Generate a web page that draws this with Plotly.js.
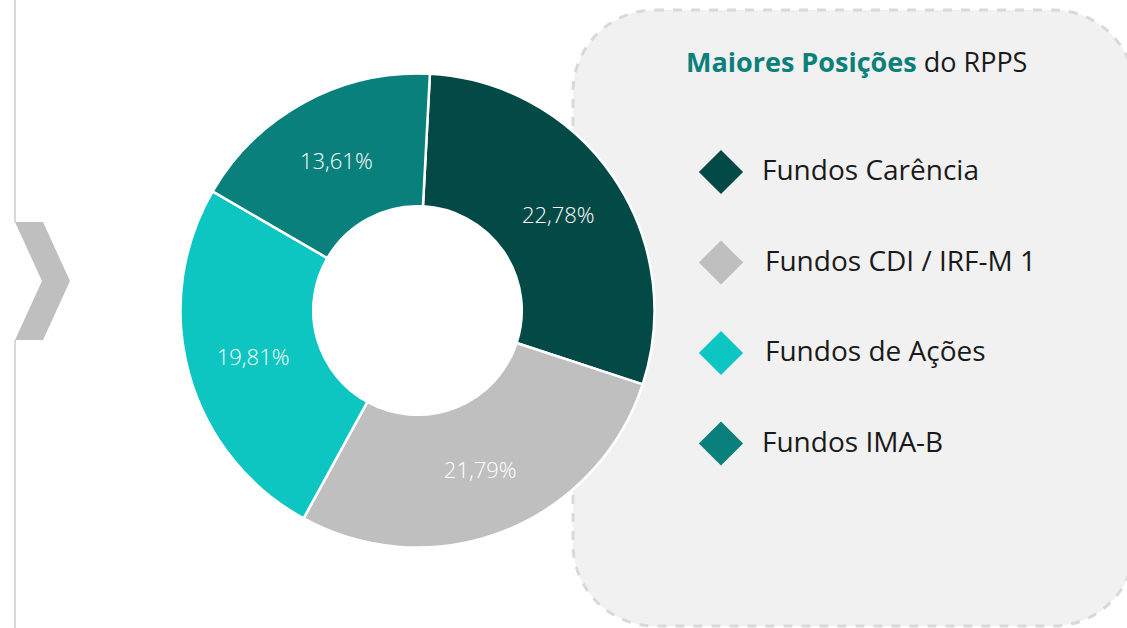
<!DOCTYPE html>
<html>
<head>
<meta charset="utf-8">
<script src="https://cdn.plot.ly/plotly-3.0.1.min.js"></script>
<style>html,body{margin:0;padding:0;background:#fff;}#chart{width:1127px;height:628px;}</style>
</head>
<body>
<div id="chart"></div>
<script>
var categories = ["Fundos Carência", "Fundos CDI / IRF-M 1", "Fundos de Ações", "Fundos IMA-B"];
var values = [22.78, 21.79, 19.81, 13.61];
var colors = ["#034a46", "#bfbfbf", "#0dc5c1", "#09807b"];
var titleBold = "Maiores Posições";
var titleRest = " do RPPS";

var W = 1127, H = 628;
var FONT = "Open Sans, Lato, sans-serif";
var labels = values.map(function (v) { return v.toFixed(2).replace('.', ',') + '%'; });

// pie placement (pixels)
var cx = 417.5, cy = 310.5, R = 237;

var pie = {
  type: 'pie',
  labels: categories,
  values: values,
  text: labels,
  textinfo: 'text',
  textposition: 'inside',
  insidetextorientation: 'horizontal',
  textfont: {family: FONT, size: 22, color: '#ffffff', weight: 300},
  hole: 0.44,
  sort: false,
  direction: 'clockwise',
  rotation: 3,
  marker: {colors: colors, line: {color: '#ffffff', width: 2.5}},
  domain: {x: [(cx - R) / W, (cx + R) / W], y: [1 - (cy + R) / H, 1 - (cy - R) / H]},
  showlegend: false,
  hoverinfo: 'label+text'
};

// legend diamonds
var legY = categories.map(function (c, i) { return 172 + i * 90.5; });
var legX = categories.map(function (c, i) { return 721; });
var diamonds = {
  type: 'scatter',
  mode: 'markers',
  x: legX,
  y: legY,
  marker: {symbol: 'diamond', size: 34, color: colors, line: {width: 0}},
  showlegend: false,
  hoverinfo: 'skip',
  xaxis: 'x', yaxis: 'y'
};

var textX = [760, 763, 763, 760];
var annotations = categories.map(function (c, i) {
  return {
    x: textX[i], y: legY[i] - 3, xref: 'x', yref: 'y', text: c, showarrow: false,
    xanchor: 'left', yanchor: 'middle',
    font: {family: FONT, size: 28, color: '#1a1a1a'}
  };
});
annotations.push({
  x: 856, y: 61, xref: 'x', yref: 'y', showarrow: false, xanchor: 'center', yanchor: 'middle',
  text: '<b><span style="color:#0b8079">' + titleBold + '</span></b>' + titleRest,
  font: {family: FONT, size: 27, color: '#1a1a1a'}
});

// rounded dashed box path
function roundRect(x0, y0, x1, y1, r) {
  var k = 0.5523 * r;
  return 'M' + (x0 + r) + ',' + y0 +
    ' L' + (x1 - r) + ',' + y0 +
    ' C' + (x1 - r + k) + ',' + y0 + ' ' + x1 + ',' + (y0 + r - k) + ' ' + x1 + ',' + (y0 + r) +
    ' L' + x1 + ',' + (y1 - r) +
    ' C' + x1 + ',' + (y1 - r + k) + ' ' + (x1 - r + k) + ',' + y1 + ' ' + (x1 - r) + ',' + y1 +
    ' L' + (x0 + r) + ',' + y1 +
    ' C' + (x0 + r - k) + ',' + y1 + ' ' + x0 + ',' + (y1 - r + k) + ' ' + x0 + ',' + (y1 - r) +
    ' L' + x0 + ',' + (y0 + r) +
    ' C' + x0 + ',' + (y0 + r - k) + ' ' + (x0 + r - k) + ',' + y0 + ' ' + (x0 + r) + ',' + y0 + ' Z';
}

var shapes = [
  {type: 'path', xref: 'x', yref: 'y', layer: 'below', path: roundRect(573, 10, 1135, 626, 82),
   fillcolor: '#f1f1f1', line: {color: '#d9d9d9', width: 3, dash: 'dash'}},
  {type: 'line', xref: 'x', yref: 'y', layer: 'below', x0: 15, x1: 15, y0: 0, y1: 222, line: {color: '#d9d9d9', width: 2}},
  {type: 'line', xref: 'x', yref: 'y', layer: 'below', x0: 15, x1: 15, y0: 340, y1: 628, line: {color: '#d9d9d9', width: 2}},
  {type: 'path', xref: 'x', yref: 'y', layer: 'below', path: 'M15,222 L43,222 L70,281 L43,340 L15,340 L42,281 Z',
   fillcolor: '#bfbfbf', line: {width: 0}}
];

var layout = {
  width: W, height: H,
  margin: {l: 0, r: 0, t: 0, b: 0},
  paper_bgcolor: '#ffffff', plot_bgcolor: 'rgba(0,0,0,0)',
  xaxis: {range: [0, W], visible: false, fixedrange: true, domain: [0, 1]},
  yaxis: {range: [H, 0], visible: false, fixedrange: true, domain: [0, 1]},
  shapes: shapes,
  annotations: annotations,
  showlegend: false
};

Plotly.newPlot('chart', [diamonds, pie], layout, {displayModeBar: false, staticPlot: true});
</script>
</body>
</html>
